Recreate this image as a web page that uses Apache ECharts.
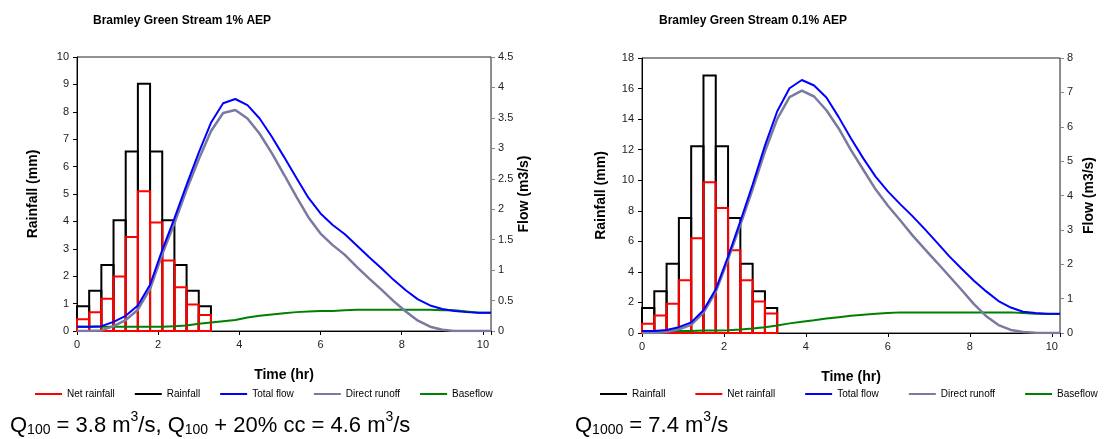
<!DOCTYPE html>
<html><head><meta charset="utf-8">
<script src="https://cdn.jsdelivr.net/npm/echarts@6/dist/echarts.min.js"></script>
<style>html,body{margin:0;padding:0;background:#fff}#c{width:1104px;height:439px}</style>
</head><body><div id="c"></div>
<script>
// ---- data ----
const times = [0,0.3,0.6,0.9,1.2,1.5,1.8,2.1,2.4,2.7,3.0,3.3,3.6,3.9,4.2,4.5,4.8,5.1,5.4,5.7,6.0,6.3,6.6,6.9,7.2,7.5,7.8,8.1,8.4,8.7,9.0,9.3,9.6,9.9,10.2];
const rainStart = [0,0.3,0.6,0.9,1.2,1.5,1.8,2.1,2.4,2.7,3.0];
const rainDuration = 0.3;

const rain100 = [0.9,1.47,2.41,4.04,6.55,9.02,6.55,4.04,2.41,1.47,0.9];
const net100 = [0.43,0.68,1.18,1.99,3.43,5.1,3.96,2.57,1.6,0.97,0.58];
const total100 = [0.07,0.07,0.08,0.15,0.25,0.42,0.76,1.33,1.85,2.40,2.93,3.42,3.74,3.81,3.71,3.49,3.19,2.86,2.52,2.19,1.93,1.74,1.59,1.40,1.21,1.03,0.84,0.67,0.52,0.42,0.36,0.33,0.31,0.30,0.30];
const direct100 = [0,0,0.01,0.08,0.18,0.35,0.69,1.26,1.77,2.32,2.82,3.28,3.58,3.63,3.49,3.24,2.92,2.57,2.21,1.87,1.60,1.41,1.25,1.05,0.86,0.68,0.49,0.32,0.17,0.07,0.02,0,0,0,0];
const base100 = [0.07,0.07,0.07,0.07,0.07,0.07,0.07,0.07,0.08,0.09,0.12,0.14,0.16,0.18,0.22,0.25,0.27,0.29,0.31,0.32,0.33,0.33,0.34,0.35,0.35,0.35,0.35,0.35,0.35,0.35,0.34,0.34,0.32,0.30,0.30];

const rain1000 = [1.64,2.73,4.54,7.53,12.23,16.86,12.23,7.53,4.54,2.73,1.64];
const net1000 = [0.61,1.14,1.92,3.45,6.2,9.87,8.19,5.41,3.45,2.07,1.27];
const total1000 = [0.06,0.06,0.09,0.17,0.31,0.66,1.27,2.22,3.25,4.32,5.45,6.45,7.12,7.36,7.20,6.85,6.28,5.66,5.08,4.55,4.12,3.75,3.40,3.02,2.63,2.23,1.87,1.52,1.21,0.93,0.74,0.62,0.58,0.56,0.56];
const direct1000 = [0,0,0.03,0.11,0.24,0.59,1.2,2.14,3.15,4.19,5.28,6.23,6.86,7.05,6.88,6.48,5.95,5.32,4.75,4.18,3.70,3.28,2.84,2.44,2.05,1.65,1.25,0.84,0.49,0.23,0.09,0.03,0.01,0,0];
const base1000 = [0.06,0.06,0.06,0.06,0.06,0.07,0.07,0.08,0.10,0.13,0.17,0.22,0.28,0.33,0.37,0.42,0.46,0.50,0.53,0.56,0.58,0.60,0.60,0.60,0.60,0.60,0.60,0.60,0.60,0.60,0.60,0.58,0.56,0.55,0.55];

const titles = ['Bramley Green Stream 1% AEP', 'Bramley Green Stream 0.1% AEP'];
const rainTicks = [{max:10, interval:1}, {max:18, interval:2}];
const flowTicks = [{max:4.5, interval:0.5}, {max:8, interval:1}];

// ---- styles ----
const FONT = '"Liberation Sans", Arial, sans-serif';
const COL = {rain:'#000000', net:'#ff0000', total:'#0000ff', direct:'#7a7aa0', base:'#008000'};
const grids = [
  {left:77, right:613, top:57, bottom:108},
  {left:642, right:44, top:58, bottom:106}
];

function barSeries(name, gi, starts, vals, color, z){
  return {
    type:'custom', name, xAxisIndex:gi, yAxisIndex:gi*2, z,
    itemStyle:{color},
    data: starts.map((s,i)=>[s, s+rainDuration, vals[i]]),
    renderItem(params, api){
      const p0 = api.coord([api.value(0), 0]);
      const p1 = api.coord([api.value(1), api.value(2)]);
      return {type:'rect', shape:{x:p0[0], y:p1[1], width:p1[0]-p0[0], height:p0[1]-p1[1]},
        style:{fill:'none', stroke:color, lineWidth:2}};
    }
  };
}
function lineSeries(name, gi, vals, color, z, w){
  return {type:'line', name, xAxisIndex:gi, yAxisIndex:gi*2+1, z, symbol:'none',
    itemStyle:{color}, lineStyle:{color, width:w},
    data: times.map((t,i)=>[t, vals[i]])};
}

const xAxes = [], yAxes = [];
grids.forEach((g,gi)=>{
  xAxes.push({type:'value', gridIndex:gi, min:0, max:10.2, interval:2,
    name:'Time (hr)', nameLocation:'middle', nameGap:37,
    nameTextStyle:{fontFamily:FONT, fontSize:14, fontWeight:'bold', color:'#000'},
    axisLine:{show:true, lineStyle:{color:'#000', width:1}},
    axisTick:{show:true, length:4, lineStyle:{color:'#000'}},
    axisLabel:{fontFamily:FONT, fontSize:11, color:'#222', margin:8,
      formatter:v=> (Math.abs(v/2 - Math.round(v/2))<1e-6) ? String(v) : ''},
    splitLine:{show:false}});
  yAxes.push({type:'value', gridIndex:gi, position:'left', min:0, max:rainTicks[gi].max, interval:rainTicks[gi].interval,
    name:'Rainfall (mm)', nameLocation:'middle', nameGap: gi===0?37:34,
    nameTextStyle:{fontFamily:FONT, fontSize:14, fontWeight:'bold', color:'#000'},
    axisLine:{show:true, lineStyle:{color:'#000'}},
    axisTick:{show:true, length:4, lineStyle:{color:'#000'}},
    axisLabel:{fontFamily:FONT, fontSize:11, color:'#222', margin:8},
    splitLine:{show:false}});
  yAxes.push({type:'value', gridIndex:gi, position:'right', min:0, max:flowTicks[gi].max, interval:flowTicks[gi].interval,
    name:'Flow (m3/s)', nameLocation:'middle', nameGap: gi===0?26:22,
    nameTextStyle:{fontFamily:FONT, fontSize:14, fontWeight:'bold', color:'#000'},
    axisLine:{show:true, lineStyle:{color:'#888'}},
    axisTick:{show:true, length:4, lineStyle:{color:'#888'}},
    axisLabel:{fontFamily:FONT, fontSize:11, color:'#222', margin:7},
    splitLine:{show:false}});
});

const datasets = [
  {rain:rain100, net:net100, total:total100, direct:direct100, base:base100},
  {rain:rain1000, net:net1000, total:total1000, direct:direct1000, base:base1000}
];
const series = [];
datasets.forEach((d,gi)=>{
  series.push(barSeries('Rainfall', gi, rainStart, d.rain, COL.rain, 2));
  series.push(barSeries('Net rainfall', gi, rainStart, d.net, COL.net, 3));
  series.push(lineSeries('Baseflow', gi, d.base, COL.base, 4, 2));
  series.push(lineSeries('Direct runoff', gi, d.direct, COL.direct, 5, 2.5));
  series.push(lineSeries('Total flow', gi, d.total, COL.total, 6, 2));
});

const legendText = {fontFamily:FONT, fontSize:10, color:'#000'};
const keyOf = {'Rainfall':'rain','Net rainfall':'net','Total flow':'total','Direct runoff':'direct','Baseflow':'base'};
const mkLegend = (names, left, gap)=>({
  left, top:389, padding:0, itemWidth:27, itemHeight:2, itemGap:gap, icon:'rect', selectedMode:false,
  textStyle:legendText,
  data: names.map(n=>({name:n, icon:'rect', itemStyle:{color:COL[keyOf[n]]}}))
});

const capRich = {
  q:{fontFamily:FONT, fontSize:22, color:'#000', lineHeight:27, verticalAlign:'bottom'},
  sub:{fontFamily:FONT, fontSize:14, color:'#000', lineHeight:15, verticalAlign:'bottom'},
  sup:{fontFamily:FONT, fontSize:14, color:'#000', lineHeight:15, verticalAlign:'top'}
};

const chart = echarts.init(document.getElementById('c'), null, {renderer:'canvas'});
chart.setOption({
  animation:false,
  title:[
    {text:titles[0], left:93, top:15, padding:0, textStyle:{fontFamily:FONT, fontSize:12, fontWeight:'bold', color:'#000'}},
    {text:titles[1], left:659, top:15, padding:0, textStyle:{fontFamily:FONT, fontSize:12, fontWeight:'bold', color:'#000'}}
  ],
  grid: grids.map(g=>Object.assign({show:true, borderColor:'#222', borderWidth:1, backgroundColor:'transparent'}, g)),
  xAxis:xAxes, yAxis:yAxes,
  legend:[
    mkLegend(['Net rainfall','Rainfall','Total flow','Direct runoff','Baseflow'], 35, 20),
    mkLegend(['Rainfall','Net rainfall','Total flow','Direct runoff','Baseflow'], 600, 30)
  ],
  graphic:[
    {type:'text', left:10, top:410, style:{text:'{q|Q}{sub|100}{q| = 3.8 m}{sup|3}{q|/s, Q}{sub|100}{q| + 20% cc = 4.6 m}{sup|3}{q|/s}', rich:capRich}},
    {type:'text', left:575, top:410, style:{text:'{q|Q}{sub|1000}{q| = 7.4 m}{sup|3}{q|/s}', rich:capRich}}
  ],
  series
});
</script></body></html>
